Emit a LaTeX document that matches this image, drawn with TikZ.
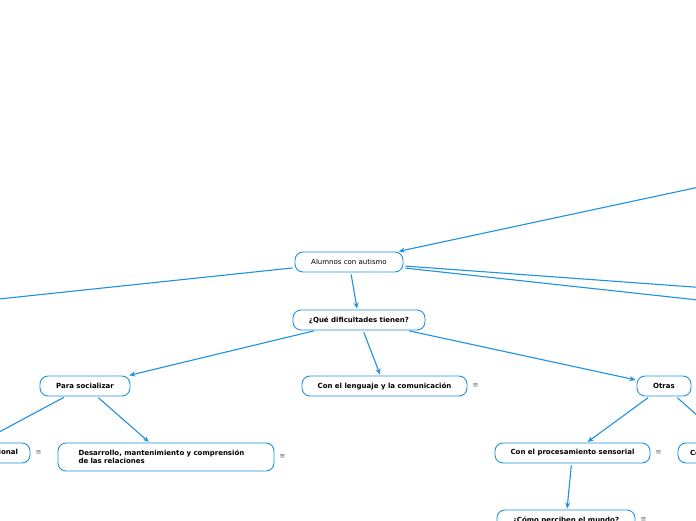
\documentclass[tikz,border=0pt]{standalone}
\usepackage{fontspec}
\setmainfont{DejaVu Sans}
\usetikzlibrary{arrows.meta,positioning}
\definecolor{mapblue}{RGB}{30,145,225}

\begin{document}
\begin{tikzpicture}[x=1pt, y=-1pt]
        \tikzstyle{topic} = [rectangle, draw=mapblue, line width=0.9pt, rounded corners=8pt, fill=white, minimum height=20pt, inner xsep=12pt, inner ysep=0pt, text centered, font=\fontsize{7}{8.4}\selectfont\bfseries]
        \tikzstyle{arrow} = [-{Stealth[length=6pt,width=5pt]}, draw=mapblue, line width=1.1pt, shorten <=2pt, shorten >=1pt]
        \tikzstyle{note} = [font=\fontsize{7}{8}\selectfont, text=black!60, inner sep=0pt]
        \useasboundingbox (0,0) rectangle (696,520);
        \clip (0,0) rectangle (696,520);
        \fill[white] (0,0) rectangle (696,520);
        % ends of branches that lie outside the picture
        \coordinate (root) at (900,144);
        \coordinate (rightA) at (900,302);
        \coordinate (rightB) at (900,322);
        \coordinate (leftA) at (-200,320);
        \node (alumnos) [topic, minimum width=108pt, font=\fontsize{7}{8.4}\selectfont] at (349,262) {Alumnos con autismo};
        \node (dific) [topic, minimum width=132pt] at (359,320) {¿Qué dificultades tienen?};
        \node (social) [topic, minimum width=90pt] at (85,386) {Para socializar};
        \node (lenguaje) [topic, minimum width=165pt] at (384.5,386) {Con el lenguaje y la comunicación};
        \node (otras) [topic, minimum width=54pt] at (664,386) {Otras};
        \node (recip) [topic, minimum width=140pt, text width=116pt, align=right] at (-40,453) {Reciprocidad socioemocional};
        \node (relac) [topic, minimum width=216pt, minimum height=28pt, text width=175pt, align=left] at (166,457) {Desarrollo, mantenimiento y comprensión\\de las relaciones};
        \node (sensor) [topic, minimum width=155pt] at (572.5,453) {Con el procesamiento sensorial};
        \node (conducta) [topic, minimum width=124pt, text width=100pt, align=left] at (740,453) {Con la conducta};
        \node (mundo) [topic, minimum width=138pt] at (566,520) {¿Cómo perciben el mundo?};
        \node (nLeng) [note, right=5pt of lenguaje] {≡};
        \node (nOtras) [note, right=4pt of otras] {≡};
        \node (nRecip) [note, right=5pt of recip] {≡};
        \node (nRelac) [note, right=5pt of relac] {≡};
        \node (nSensor) [note, right=5pt of sensor] {≡};
        \node (nMundo) [note, right=5pt of mundo] {≡};
        \draw[arrow] (root)--(alumnos); \draw[arrow] (alumnos)--(leftA);
        \draw[arrow] (alumnos)--(rightA); \draw[arrow] (alumnos)--(rightB);
        \draw[arrow] (alumnos)--(dific);
        \draw[arrow] (dific)--(social); \draw[arrow] (dific)--(lenguaje);
        \draw[arrow] (dific)--(otras);
        \draw[arrow] (social)--(recip); \draw[arrow] (social)--(relac);
        \draw[arrow] (otras)--(sensor); \draw[arrow] (otras)--(conducta);
        \draw[arrow] (sensor)--(mundo);
    \end{tikzpicture}
\end{document}
